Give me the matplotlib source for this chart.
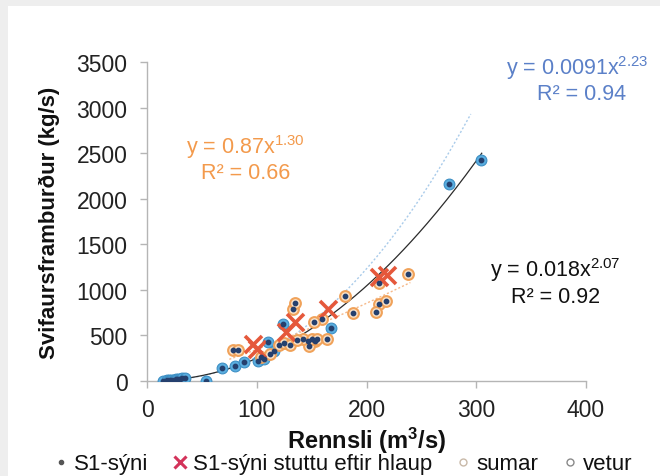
import numpy as np
import matplotlib
matplotlib.use("Agg")
import matplotlib.pyplot as plt
from matplotlib.patches import Rectangle
from matplotlib.lines import Line2D

plt.rcParams['font.family'] = ['Liberation Sans', 'DejaVu Sans']
plt.rcParams['mathtext.fontset'] = 'custom'
plt.rcParams['mathtext.rm'] = 'Liberation Sans'
plt.rcParams['mathtext.it'] = 'Liberation Sans'

# ---- data ----
vetur_q = [15, 18, 20, 22, 24, 26, 28, 30, 32, 35, 20, 25, 54, 68, 80, 88,
           101, 107, 116, 110, 124, 168, 275, 304]
vetur_s = [5, 10, 8, 15, 12, 20, 18, 25, 30, 35, 3, 5, 3, 139, 168, 205,
           223, 241, 333, 431, 626, 582, 2165, 2420]

sumar_q = [78, 83, 133, 135, 147, 153, 148, 142, 150, 155, 164, 159, 180, 188,
           211, 218, 209, 211, 238, 152, 120, 125, 130, 137, 104, 112]
sumar_s = [344, 344, 790, 856, 442, 442, 388, 461, 461, 461, 461, 680, 930, 746,
           845, 881, 754, 1076, 1175, 644, 400, 420, 395, 450, 260, 300]

hlaup_q = [97, 100, 127, 135, 165, 211, 219]
hlaup_s = [406, 351, 534, 644, 790, 1140, 1165]

# power-law fits: y = a * x^b
fit_all = dict(a=0.018, b=2.07, r2=0.92, xmin=15, xmax=305)
fit_vetur = dict(a=0.0091, b=2.23, r2=0.94, xmin=15, xmax=295)
fit_sumar = dict(a=0.87, b=1.30, r2=0.66, xmin=75, xmax=240)

x_ticks = [0, 100, 200, 300, 400]
y_ticks = [0, 500, 1000, 1500, 2000, 2500, 3000, 3500]

# ---- figure ----
W, H = 660, 477
fig = plt.figure(figsize=(W / 100, H / 100), dpi=100, facecolor='#eeeeee')
fig.patches.append(Rectangle((8 / W, 0), 1, (H - 7) / H, transform=fig.transFigure,
                             facecolor='white', edgecolor='none', zorder=-10))

ax = fig.add_axes([147 / W, (H - 382) / H, 439 / W, 319 / H])
ax.set_facecolor('none')

def curve(f):
    xs = np.linspace(f['xmin'], f['xmax'], 200)
    return xs, f['a'] * xs ** f['b']

xs, ys = curve(fit_vetur)
ax.plot(xs, ys, color='#a9cbea', lw=1.0, ls=(0, (1.5, 1.5)), zorder=2)
xs, ys = curve(fit_sumar)
ax.plot(xs, ys, color='#f6b98a', lw=1.0, ls=(0, (1.5, 1.5)), zorder=2)
xs, ys = curve(fit_all)
ax.plot(xs, ys, color='#2b2b2b', lw=0.9, zorder=3)

ax.scatter(vetur_q, vetur_s, s=60, facecolor='#5aaee0', edgecolor='#3d8fc4',
           linewidths=0.8, zorder=4)
ax.scatter(sumar_q, sumar_s, s=60, facecolor='#fbe3c8', edgecolor='#f0a25a',
           linewidths=1.5, zorder=4)
ax.scatter(hlaup_q, hlaup_s, s=150, marker='x', color='#e5583b',
           linewidths=2.6, zorder=5)
ax.scatter(vetur_q + sumar_q, vetur_s + sumar_s, s=10, color='#25406e', zorder=6)

ax.set_xlim(0, 400)
ax.set_ylim(0, 3500)
ax.set_xticks(x_ticks)
ax.set_yticks(y_ticks)
for sp in ['top', 'right']:
    ax.spines[sp].set_visible(False)
for sp in ['left', 'bottom']:
    ax.spines[sp].set_color('#b5b5b5')
    ax.spines[sp].set_linewidth(1.0)
ax.tick_params(axis='both', colors='#b5b5b5', labelcolor='#222222',
               labelsize=16.5, length=5, width=1.0, direction='out')
ax.tick_params(axis='y', pad=9)
ax.tick_params(axis='x', pad=7)

ax.set_xlabel('Rennsli (m$^{\\mathregular{3}}$/s)', fontsize=17, fontweight='bold',
              color='#111111', labelpad=3)
ax.set_ylabel('Svifaursframburður (kg/s)', fontsize=16, fontweight='bold',
              color='#111111', labelpad=12)

# equations
ax.text(0.98, 0.985, 'y = 0.0091x$^{\\mathregular{2.23}}$', transform=ax.transAxes,
        ha='center', va='center', fontsize=15.5, color='#5b80c8')
ax.text(0.99, 0.90, 'R² = %.2f' % fit_vetur['r2'], transform=ax.transAxes,
        ha='center', va='center', fontsize=15.5, color='#5b80c8')
ax.text(0.225, 0.735, 'y = 0.87x$^{\\mathregular{1.30}}$', transform=ax.transAxes,
        ha='center', va='center', fontsize=15.5, color='#f39a4c')
ax.text(0.225, 0.655, 'R² = %.2f' % fit_sumar['r2'], transform=ax.transAxes,
        ha='center', va='center', fontsize=15.5, color='#f39a4c')
ax.text(0.93, 0.352, 'y = 0.018x$^{\\mathregular{2.07}}$', transform=ax.transAxes,
        ha='center', va='center', fontsize=15.5, color='#111111')
ax.text(0.93, 0.266, 'R² = %.2f' % fit_all['r2'], transform=ax.transAxes,
        ha='center', va='center', fontsize=15.5, color='#111111')

handles = [
    Line2D([], [], ls='none', marker='o', ms=3, color='#555555'),
    Line2D([], [], ls='none', marker='x', ms=8, mew=2.2, color='#d3335a'),
    Line2D([], [], ls='none', marker='o', ms=5, mfc='white', mec='#c9b9a8', mew=1),
    Line2D([], [], ls='none', marker='o', ms=5, mfc='white', mec='#8a8a8a', mew=1),
]
labels = ['S1-sýni', 'S1-sýni stuttu eftir hlaup', 'sumar', 'vetur']
fig.legend(handles, labels, loc='center', bbox_to_anchor=(0.52, 1 - 465 / H),
           ncol=4, frameon=False, fontsize=16, handlelength=0.6,
           handletextpad=0.3, columnspacing=1.1, borderaxespad=0,
           labelcolor='#111111')

fig.savefig('out.png', dpi=100, facecolor=fig.get_facecolor())
